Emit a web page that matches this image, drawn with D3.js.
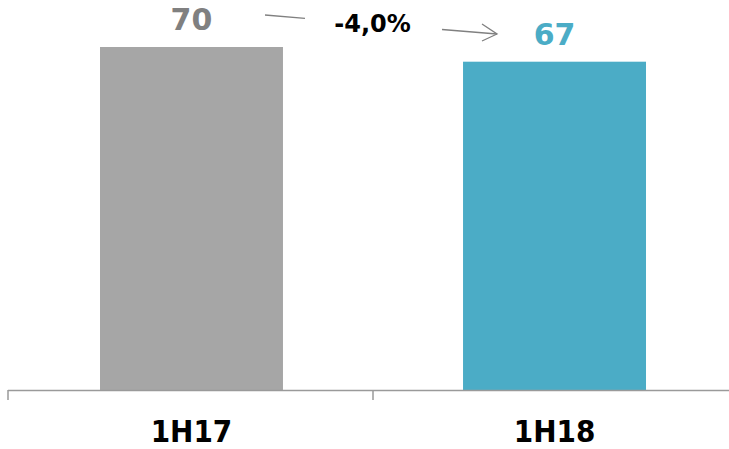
<!DOCTYPE html>
<html>
<head>
<meta charset="utf-8">
<script src="https://cdn.jsdelivr.net/npm/d3@7"></script>
<style>
  html, body { margin: 0; padding: 0; background: #fff; }
  svg { display: block; }
</style>
</head>
<body>
<div id="chart"></div>
<script>
// Half-year totals
const categories = ["1H17", "1H18"];
const values = [70, 67];
const valueLabels = ["70", "67"];
const changeLabel = "-4,0%";
const barColors = ["#a6a6a6", "#4bacc6"];
const labelColors = ["#808080", "#4bacc6"];

const width = 729, height = 449;
const baseY = 390;

const svg = d3.select("#chart").append("svg")
  .attr("width", width)
  .attr("height", height);

const x = d3.scaleBand()
  .domain(categories)
  .range([8, 738])
  .paddingInner(0.496)
  .paddingOuter(0.2534);

const y = d3.scaleLinear()
  .domain([0, 70])
  .range([baseY, 47]);

// Bars
svg.selectAll("rect.bar")
  .data(values)
  .join("rect")
  .attr("class", "bar")
  .attr("x", (d, i) => x(categories[i]))
  .attr("width", x.bandwidth())
  .attr("y", d => y(d))
  .attr("height", d => y(0) - y(d))
  .attr("fill", (d, i) => barColors[i]);

// Category axis: baseline with a tick at the left edge and between the bands
const axis = svg.append("g").attr("stroke", "#9a9a9a").attr("stroke-width", 1.5).attr("fill", "none");
axis.append("line").attr("x1", 8).attr("x2", width).attr("y1", baseY + 0.5).attr("y2", baseY + 0.5);
const gap = x.step() - x.bandwidth();
[8, x(categories[1]) - gap / 2].forEach(tx => {
  axis.append("line").attr("x1", tx).attr("x2", tx).attr("y1", baseY).attr("y2", baseY + 10);
});

svg.selectAll("text.cat")
  .data(categories)
  .join("text")
  .attr("class", "cat")
  .attr("x", d => x(d) + x.bandwidth() / 2)
  .attr("y", 442)
  .attr("text-anchor", "middle")
  .attr("font-family", "'DejaVu Sans Condensed', 'DejaVu Sans', sans-serif")
  .attr("font-stretch", "condensed")
  .attr("font-weight", "bold")
  .attr("font-size", 31)
  .attr("fill", "#000")
  .text(d => d);

// Value labels above each bar
svg.selectAll("text.val")
  .data(values)
  .join("text")
  .attr("class", "val")
  .attr("x", (d, i) => x(categories[i]) + x.bandwidth() / 2)
  .attr("y", d => y(d) - 17)
  .attr("text-anchor", "middle")
  .attr("font-family", "'DejaVu Sans', sans-serif")
  .attr("font-weight", "bold")
  .attr("font-size", 30)
  .attr("fill", (d, i) => labelColors[i])
  .text((d, i) => valueLabels[i]);

// Change arrow between the two labels, interrupted by the percentage text
const p0 = [265, 15], p1 = [497, 34];
const along = t => [p0[0] + (p1[0] - p0[0]) * t, p0[1] + (p1[1] - p0[1]) * t];
const gapStart = (305 - p0[0]) / (p1[0] - p0[0]);
const gapEnd = (442 - p0[0]) / (p1[0] - p0[0]);
const arrow = svg.append("g").attr("stroke", "#808080").attr("stroke-width", 1.3).attr("fill", "none");
const a = along(0), b = along(gapStart), c = along(gapEnd), e = along(1);
arrow.append("line").attr("x1", a[0]).attr("y1", a[1]).attr("x2", b[0]).attr("y2", b[1]);
arrow.append("line").attr("x1", c[0]).attr("y1", c[1]).attr("x2", e[0]).attr("y2", e[1]);
arrow.append("path").attr("d", `M482,24 L${e[0]},${e[1]} L482,41`);

svg.append("text")
  .attr("x", 372.5)
  .attr("y", 32)
  .attr("text-anchor", "middle")
  .attr("font-family", "'DejaVu Sans', sans-serif")
  .attr("font-weight", "bold")
  .attr("font-size", 24)
  .attr("fill", "#000")
  .text(changeLabel);
</script>
</body>
</html>
